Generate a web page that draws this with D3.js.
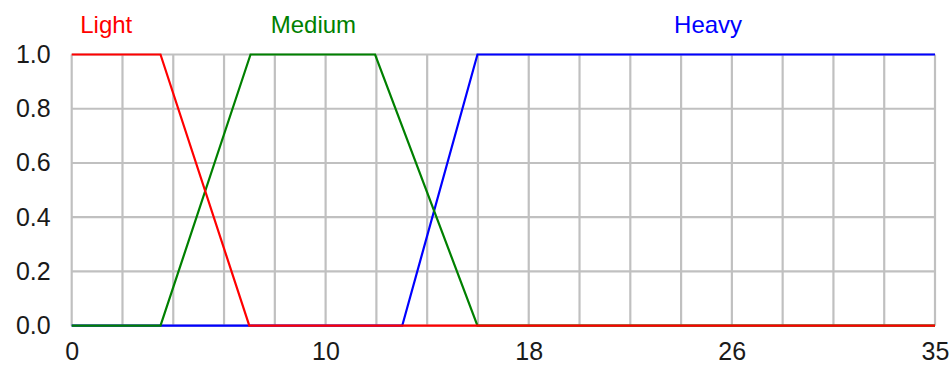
<!DOCTYPE html>
<html>
<head>
<meta charset="utf-8">
<script src="https://cdn.jsdelivr.net/npm/d3@7"></script>
<style>
  html, body { margin: 0; padding: 0; background: #fff; }
  svg { display: block; }
  text { font-family: "Liberation Sans", Arial, sans-serif; }
</style>
</head>
<body>
<svg id="chart" width="949" height="367"></svg>
<script>
// ---- data ----
const seriesNames = ["Light", "Medium", "Heavy"];
const seriesColors = ["#ff0000", "#008000", "#0000ff"];
const lightX = [0, 3.6, 7.2, 35];
const lightY = [1, 1, 0, 0];
const mediumX = [0, 3.6, 7.25, 12.3, 16.45, 35];
const mediumY = [0, 0, 1, 1, 0, 0];
const heavyX = [0, 13.4, 16.45, 35];
const heavyY = [0, 0, 1, 1];
const seriesLabelAt = [1.4, 9.8, 25.8];
const xGridValues = d3.range(18).map(i => i * 35 / 17);
const xTickValues = [0, 10.29, 18.53, 26.76, 35];
const xTickLabels = ["0", "10", "18", "26", "35"];
const yTickValues = [0, 0.2, 0.4, 0.6, 0.8, 1.0];
const yTickLabels = ["0.0", "0.2", "0.4", "0.6", "0.8", "1.0"];

// ---- layout ----
const svg = d3.select("#chart");
const mLeft = 71.7, mRight = 935, mTop = 54.5, mBottom = 325.7;
const x = d3.scaleLinear().domain([0, 35]).range([mLeft, mRight]);
const y = d3.scaleLinear().domain([0, 1]).range([mBottom, mTop]);

// grid
const grid = svg.append("g").attr("stroke", "#c0c0c0").attr("stroke-width", 2.2);
grid.selectAll("line.v").data(xGridValues).join("line")
  .attr("class", "v")
  .attr("x1", d => x(d)).attr("x2", d => x(d))
  .attr("y1", y(0)).attr("y2", y(1));
grid.selectAll("line.h").data(yTickValues).join("line")
  .attr("class", "h")
  .attr("x1", x(0)).attr("x2", x(35))
  .attr("y1", d => y(d)).attr("y2", d => y(d));

// y axis labels
const yAxis = d3.axisLeft(y).tickValues(yTickValues)
  .tickFormat((d, i) => yTickLabels[i]).tickSize(0).tickPadding(21);
const gy = svg.append("g").attr("transform", `translate(${mLeft},0)`).call(yAxis);
gy.select(".domain").remove();
gy.selectAll("text").attr("font-size", 25).attr("fill", "#1a1a1a")
  .attr("font-family", "'Liberation Sans', Arial, sans-serif");

// x axis labels
const xAxis = d3.axisBottom(x).tickValues(xTickValues)
  .tickFormat((d, i) => xTickLabels[i]).tickSize(0).tickPadding(17);
const gx = svg.append("g").attr("transform", `translate(0,${mBottom})`).call(xAxis);
gx.select(".domain").remove();
gx.selectAll("text").attr("font-size", 25).attr("fill", "#1a1a1a")
  .attr("font-family", "'Liberation Sans', Arial, sans-serif");

// series (draw order: Heavy, Medium, Light on top)
const series = [
  { name: seriesNames[0], color: seriesColors[0], pts: d3.zip(lightX, lightY), at: seriesLabelAt[0] },
  { name: seriesNames[1], color: seriesColors[1], pts: d3.zip(mediumX, mediumY), at: seriesLabelAt[1] },
  { name: seriesNames[2], color: seriesColors[2], pts: d3.zip(heavyX, heavyY), at: seriesLabelAt[2] }
];
const line = d3.line().x(d => x(d[0])).y(d => y(d[1]));
svg.append("g").selectAll("path").data(series.slice().reverse()).join("path")
  .attr("d", d => line(d.pts))
  .attr("fill", "none")
  .attr("stroke", d => d.color)
  .attr("stroke-width", 2.2)
  .attr("stroke-linejoin", "miter");

// series labels
svg.append("g").selectAll("text").data(series).join("text")
  .attr("x", d => x(d.at))
  .attr("y", 33)
  .attr("text-anchor", "middle")
  .attr("font-size", 24)
  .attr("fill", d => d.color)
  .text(d => d.name);
</script>
</body>
</html>
